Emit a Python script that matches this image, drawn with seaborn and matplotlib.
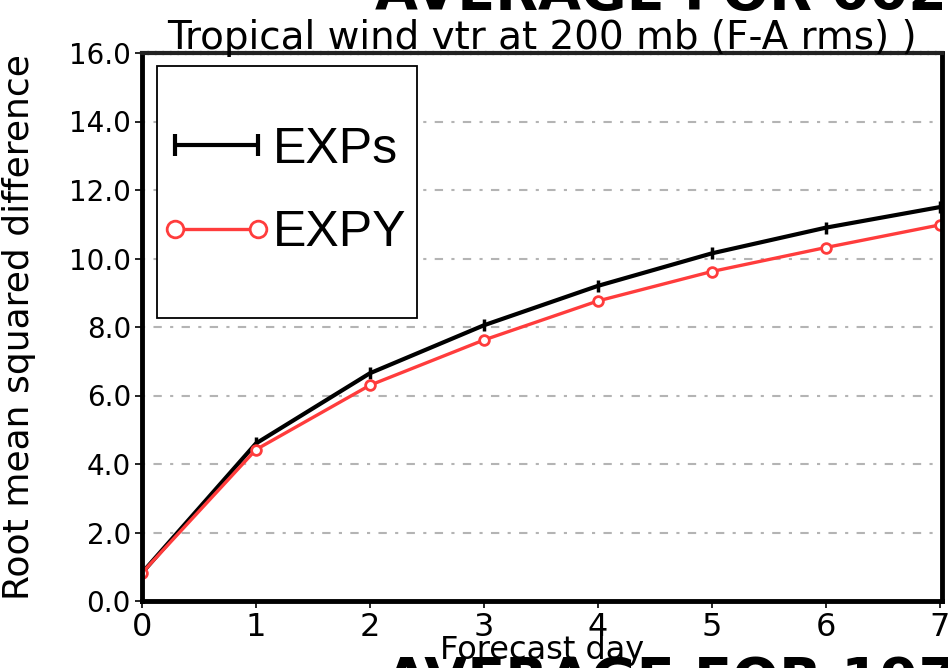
import matplotlib
matplotlib.use("Agg")
import matplotlib.pyplot as plt
from matplotlib.patches import Rectangle
import seaborn as sns
import pandas as pd

# Forecast verification: tropical wind vector RMS error at 200 mb
forecast_day = [0, 1, 2, 3, 4, 5, 6, 7]
exps_rms = [0.82, 4.60, 6.65, 8.05, 9.20, 10.15, 10.90, 11.50]
expy_rms = [0.82, 4.42, 6.30, 7.62, 8.76, 9.62, 10.32, 10.98]
y_ticks = [0.0, 2.0, 4.0, 6.0, 8.0, 10.0, 12.0, 14.0, 16.0]
series_names = ["EXPs", "EXPY"]

df = pd.DataFrame({
    "day": forecast_day * 2,
    "rms": exps_rms + expy_rms,
    "exp": [series_names[0]] * len(forecast_day) + [series_names[1]] * len(forecast_day),
})

sns.set_theme(style="white")
plt.rcParams["font.family"] = ["DejaVu Sans"]
plt.rcParams["text.color"] = "black"
plt.rcParams["axes.labelcolor"] = "black"
plt.rcParams["xtick.color"] = "black"
plt.rcParams["ytick.color"] = "black"

fig = plt.figure(figsize=(9.48, 6.68), dpi=100)
ax = fig.add_axes([142 / 948, 1 - 601 / 668, 800 / 948, 548 / 668])

red = "#ff3c3c"
sns.lineplot(data=df[df.exp == "EXPs"], x="day", y="rms", ax=ax, color="black",
             lw=3.0, marker="|", markersize=9, markeredgewidth=2.5,
             markeredgecolor="black", label="EXPs")
sns.lineplot(data=df[df.exp == "EXPY"], x="day", y="rms", ax=ax, color=red,
             lw=2.4, marker="o", markersize=7, markerfacecolor="white",
             markeredgecolor=red, markeredgewidth=2.0, label="EXPY")

ax.set_xlim(0, 7.02)
ax.set_ylim(0, 16)
ax.set_xticks(forecast_day)
ax.set_xticklabels([str(d) for d in forecast_day], fontsize=23)
ax.set_yticks(y_ticks)
ax.set_yticklabels([f"{v:.1f}" for v in y_ticks], fontsize=20)
ax.tick_params(axis="both", direction="out", length=5, width=1.2, color="black",
               pad=3, labelcolor="black", left=True, bottom=True)

ax.yaxis.grid(True, color="#b4b4b4", linestyle=(0, (1.5, 4, 4, 4)), linewidth=1.5)
ax.xaxis.grid(False)

for side in ["left", "bottom", "right"]:
    ax.spines[side].set_visible(True)
    ax.spines[side].set_color("black")
    ax.spines[side].set_linewidth(3.5)
ax.spines["top"].set_visible(True)
ax.spines["top"].set_color("#222222")
ax.spines["top"].set_linewidth(3.0)
ax.spines["top"].set_linestyle((0, (1.2, 0.6)))

ax.set_xlabel("Forecast day", fontsize=23, color="black")
ax.xaxis.set_label_coords(0.5, -0.062)
ax.set_ylabel("Root mean squared difference", fontsize=26, color="black")
ax.yaxis.set_label_coords(-0.133, 0.5)
ax.set_title("Tropical wind vtr at 200 mb (F-A rms) )", fontsize=28, pad=3,
             color="black")

# legend box drawn as a white panel above the curves
ax.add_patch(Rectangle((15 / 800, 283 / 548), 260 / 800, 252 / 548,
                       transform=ax.transAxes, facecolor="white",
                       edgecolor="black", linewidth=1.3, zorder=4.5))
leg = ax.legend(loc="center left", bbox_to_anchor=(18 / 800, 409.5 / 548),
                prop={"family": "Liberation Sans", "size": 36},
                frameon=False, handlelength=2.26, handletextpad=0.0,
                borderpad=0, borderaxespad=0, labelspacing=0.75, numpoints=2)
leg.set_zorder(5)
leg.legend_handles[0].set_markersize(16)
leg.legend_handles[0].set_markeredgewidth(3)
leg.legend_handles[1].set_markersize(12)
for t in leg.get_texts():
    t.set_color("black")

# neighbouring panel headers, cut by the figure edge
fig.text(375 / 948, 1 - 9 / 668, "AVERAGE FOR 0020", fontsize=40, fontweight="bold",
         ha="left", va="baseline", color="black")
fig.text(385 / 948, 1 - 655 / 668, "AVERAGE FOR 1979", fontsize=40, fontweight="bold",
         ha="left", va="top", color="black")

fig.savefig("out.png", dpi=100)
